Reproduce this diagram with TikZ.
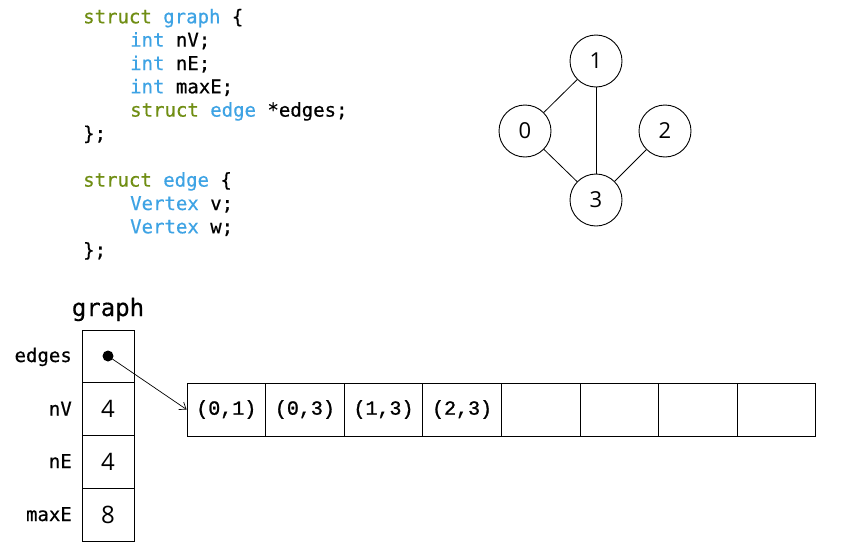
\documentclass[tikz,border=0pt]{standalone}
\usepackage{fontspec}
\usetikzlibrary{arrows.meta}
\newfontfamily\codefont[UprightFeatures={FakeBold=0.5}]{DejaVu Sans Mono}
\newfontfamily\tuplefont[UprightFeatures={FakeBold=1.2}]{Liberation Mono}
\newfontfamily\digitfont{Open Sans}
\definecolor{kwgreen}{RGB}{112,142,20}
\definecolor{kwblue}{RGB}{62,163,228}
\newcommand{\kwg}[1]{\textcolor{kwgreen}{#1}}
\newcommand{\kwb}[1]{\textcolor{kwblue}{#1}}
\tikzset{
  codeline/.style={anchor=base west, inner sep=0pt, font=\codefont\fontsize{19}{23}\selectfont},
  fieldlabel/.style={anchor=base east, inner sep=0pt, font=\codefont\fontsize{19}{23}\selectfont},
  vertex/.style={circle, draw, line width=0.9pt, minimum size=52pt, inner sep=0pt,
                 font=\digitfont\fontsize{22}{22}\selectfont},
  edgeline/.style={line width=0.8pt},
  fieldcell/.style={draw, line width=0.8pt, minimum width=52pt, minimum height=52.75pt,
                    inner sep=0pt, font=\digitfont\fontsize{24}{24}\selectfont},
  arraycell/.style={draw, line width=0.8pt, minimum width=78.6pt, minimum height=53pt,
                    inner sep=0pt, font=\tuplefont\fontsize{20}{20}\selectfont},
}
\begin{document}
\begin{tikzpicture}[x=1pt,y=-1pt]
\useasboundingbox (0,0) rectangle (867,549);

% C declarations
\node[codeline] (c1) at (83,23.3)  {\kwg{struct} \kwb{graph} \{};
\node[codeline] (c2) at (130,46.6) {\kwb{int} nV;};
\node[codeline] (c3) at (130,70)   {\kwb{int} nE;};
\node[codeline] (c4) at (130,93.3) {\kwb{int} maxE;};
\node[codeline] (c5) at (130,116.6){\kwg{struct} \kwb{edge} *edges;};
\node[codeline] (c6) at (83,140)   {\};};
\node[codeline] (c7) at (83,186.6) {\kwg{struct} \kwb{edge} \{};
\node[codeline] (c8) at (130,210)  {\kwb{Vertex} v;};
\node[codeline] (c9) at (130,233.3){\kwb{Vertex} w;};
\node[codeline] (c10) at (83,256.6){\};};

% the example graph
\node[vertex] (v1) at (596,61)  {1};
\node[vertex] (v0) at (525,131) {0};
\node[vertex] (v2) at (665,131) {2};
\node[vertex] (v3) at (596,200) {3};
\draw[edgeline] (v0) -- (v1);
\draw[edgeline] (v1) -- (v3);
\draw[edgeline] (v0) -- (v3);
\draw[edgeline] (v2) -- (v3);

% graph struct in memory
\node[anchor=base, inner sep=0pt, font=\codefont\fontsize{24}{24}\selectfont] (gname) at (108,316) {graph};
\node[fieldcell] (fedges) at (108,356.4) {};
\node[fieldcell] (fnv)    at (108,409.1) {4};
\node[fieldcell] (fne)    at (108,461.9) {4};
\node[fieldcell] (fmaxe)  at (108,514.6) {8};
\node[fieldlabel] (ledges) at (72,362)   {edges};
\node[fieldlabel] (lnv)    at (72,415.5) {nV};
\node[fieldlabel] (lne)    at (72,468)   {nE};
\node[fieldlabel] (lmaxe)  at (72,521)   {maxE};
\node[circle, fill, minimum size=11pt, inner sep=0pt] (dot) at (108,356) {};

% edges array
\foreach \i/\t in {0/{(0,1)},1/{(0,3)},2/{(1,3)},3/{(2,3)},4/{},5/{},6/{},7/{}}
  \node[arraycell] (a\i) at ({187+78.6*\i+39.3},409.5) {\t};

\draw[line width=0.7pt, -{Straight Barb[length=6pt,width=9pt]}] (dot.center) -- (a0.west);
\end{tikzpicture}
\end{document}
